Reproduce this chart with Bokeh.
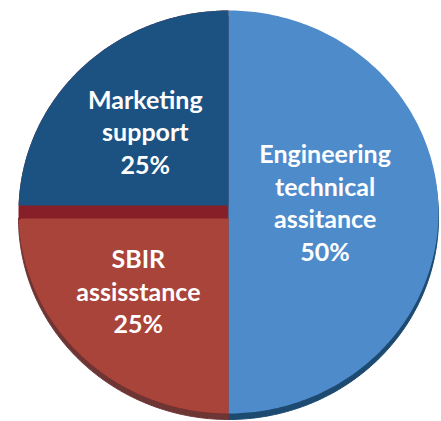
import numpy as np
from bokeh.plotting import figure
from bokeh.models import Range1d, ColumnDataSource
from bokeh.core.properties import value
from bokeh.embed import file_html
from bokeh.resources import INLINE

# ---- data ----
categories = ["Engineering\ntechnical\nassitance", "SBIR\nassisstance", "Marketing\nsupport"]
shares = [50, 25, 25]

# ---- style ----
face_colors = ["#4E8BCB", "#A8443A", "#1C5282"]
rim_colors = ["#1D4A70", "#6E3535", "#1C5282"]
band_color = "#861F27"
label_dist = [0.46, 0.58, 0.56]
label_dx = [0, -4, 0]
label_dy = [-10, -4, -1]

W, H = 441, 421
cx, cy, rx, ry = 228, 211.5, 210, 201.5
split_top, split_bot = 205, 218
rim_shift = 6

p = figure(width=W, height=H, output_backend="svg", toolbar_location=None,
           x_range=Range1d(0, W), y_range=Range1d(H, 0), min_border=0,
           outline_line_color=None)
p.axis.visible = False
p.grid.visible = False
p.background_fill_color = "white"
p.border_fill_color = "white"

def sector(a0, a1, n=200):
    t = np.radians(np.linspace(a0, a1, n))
    xs = np.concatenate([[cx], cx + rx * np.cos(t)])
    ys = np.concatenate([[cy], cy + ry * np.sin(t)])
    return xs, ys

cum = np.concatenate([[0], np.cumsum(shares)]) / sum(shares) * 360 - 90
starts, ends = cum[:-1], cum[1:]

# rim (3D side) for lower slices
for i in range(2):
    xs, ys = sector(starts[i], ends[i])
    p.patch(xs, ys + rim_shift, fill_color=rim_colors[i], line_color=rim_colors[i], line_width=1)

# left half band (side wall of SBIR slice)
xs, ys = sector(90, 270)
p.patch(xs, ys, fill_color=band_color, line_color=None)

# faces
for i in range(3):
    xs, ys = sector(starts[i], ends[i])
    if i == 1:
        ys = np.maximum(ys, split_bot)
        xs = np.where(ys <= split_bot + 0.01, np.maximum(xs, cx - rx + 3), xs)
    elif i == 2:
        ys = np.minimum(ys, split_top)
    p.patch(xs, ys, fill_color=face_colors[i], line_color=None)

# labels
mids = np.radians((starts + ends) / 2)
lx = [cx + d * rx * np.cos(m) + ox for d, m, ox in zip(label_dist, mids, label_dx)]
ly = [cy + d * ry * np.sin(m) + oy for d, m, oy in zip(label_dist, mids, label_dy)]
texts = [f"{c}\n{s}%" for c, s in zip(categories, shares)]
src = ColumnDataSource(dict(x=lx, y=ly, text=texts))
p.text(x="x", y="y", text="text", source=src, text_align="center",
       text_baseline="middle", text_color="white", text_font=value("Lato"),
       text_font_style="bold", text_font_size="25px", text_line_height=1.09)

open("out.html", "w").write(file_html(p, INLINE))
